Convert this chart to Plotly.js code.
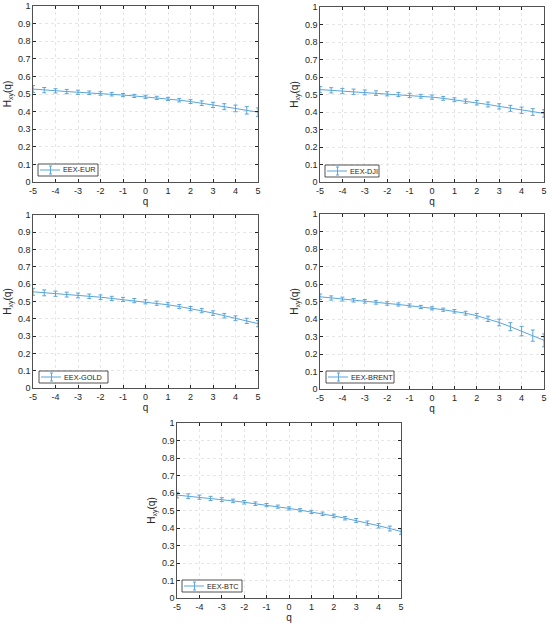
<!DOCTYPE html>
<html><head><meta charset="utf-8">
<script src="https://cdn.plot.ly/plotly-3.0.1.min.js"></script>
<style>html,body{margin:0;padding:0;background:#fff}#chart{width:550px;height:627px}</style>
</head><body><div id="chart"></div>
<script>
const q = [-5,-4.5,-4,-3.5,-3,-2.5,-2,-1.5,-1,-0.5,0,0.5,1,1.5,2,2.5,3,3.5,4,4.5,5];
const names = ["EEX-EUR","EEX-DJI","EEX-GOLD","EEX-BRENT","EEX-BTC"];
const eur    = [0.528,0.522,0.518,0.514,0.510,0.507,0.503,0.499,0.494,0.489,0.484,0.478,0.472,0.465,0.457,0.448,0.438,0.428,0.418,0.407,0.397];
const eurErr = [0.020,0.015,0.012,0.012,0.012,0.010,0.010,0.010,0.009,0.009,0.009,0.009,0.009,0.010,0.011,0.013,0.015,0.017,0.019,0.021,0.024];
const dji    = [0.528,0.524,0.520,0.516,0.512,0.508,0.504,0.500,0.495,0.490,0.485,0.478,0.470,0.462,0.453,0.443,0.432,0.421,0.410,0.400,0.392];
const djiErr = [0.018,0.015,0.015,0.015,0.014,0.013,0.012,0.012,0.012,0.011,0.012,0.011,0.011,0.012,0.013,0.014,0.015,0.017,0.018,0.019,0.021];
const gold    = [0.556,0.550,0.545,0.540,0.535,0.530,0.525,0.518,0.512,0.505,0.498,0.490,0.481,0.471,0.459,0.447,0.433,0.418,0.403,0.388,0.372];
const goldErr = [0.020,0.017,0.015,0.014,0.014,0.013,0.013,0.012,0.012,0.012,0.012,0.012,0.012,0.012,0.012,0.012,0.013,0.013,0.014,0.015,0.018];
const brent    = [0.527,0.520,0.514,0.507,0.501,0.495,0.489,0.483,0.477,0.469,0.461,0.453,0.444,0.433,0.419,0.401,0.380,0.356,0.331,0.305,0.278];
const brentErr = [0.016,0.012,0.011,0.010,0.010,0.010,0.010,0.009,0.009,0.009,0.009,0.009,0.010,0.011,0.013,0.015,0.019,0.023,0.027,0.032,0.037];
const btc    = [0.588,0.582,0.576,0.569,0.562,0.555,0.547,0.539,0.531,0.522,0.512,0.502,0.492,0.481,0.469,0.456,0.443,0.428,0.413,0.397,0.380];
const btcErr = [0.016,0.013,0.012,0.012,0.011,0.010,0.010,0.010,0.009,0.009,0.009,0.009,0.009,0.010,0.010,0.010,0.011,0.012,0.013,0.014,0.016];
const xTicks = [-5,-4,-3,-2,-1,0,1,2,3,4,5];
const yTicks = [0,0.1,0.2,0.3,0.4,0.5,0.6,0.7,0.8,0.9,1];

const W = 550, H = 627;
// pixel boxes [left,right,top,bottom]
const boxes = [[33,258,6,182],[320,544,7,182],[33,258,215,388],[320,544,214,389],[177,401,423,598]];
// legend box [left, top, width]
const legPos = [[38,164,60],[325,165,54],[39,371,69],[326,371,68],[182,580,60]];
const series = [[eur,eurErr],[dji,djiErr],[gold,goldErr],[brent,brentErr],[btc,btcErr]];
const col = '#5aa5da';
const font = {family:'Liberation Sans, Arial, sans-serif', color:'#262626'};
const data = [];
const shapes = [];
const annotations = [];
const px = v => v/W, py = v => 1 - v/H;
const layout = {width:W,height:H,margin:{l:0,r:0,t:0,b:0},paper_bgcolor:'#fff',plot_bgcolor:'#fff',
  font:Object.assign({size:9},font), showlegend:false, shapes:shapes, annotations:annotations};
series.forEach((s,i)=>{
  const k = i===0?'':String(i+1);
  const b = boxes[i];
  data.push({x:q,y:s[0],type:'scatter',mode:'lines',name:names[i],
    line:{color:col,width:1},
    error_y:{type:'data',array:s[1],visible:true,color:col,thickness:1,width:2},
    xaxis:'x'+k,yaxis:'y'+k});
  const ax = {showline:true,linecolor:'#262626',linewidth:0.8,mirror:'ticks',ticks:'inside',ticklen:3,
    tickcolor:'#262626',showgrid:true,gridcolor:'#e0e0e0',griddash:'dot',gridwidth:0.8,zeroline:false,
    tickfont:Object.assign({size:9},font)};
  layout['xaxis'+k] = Object.assign({},ax,{domain:[b[0]/W,b[1]/W],range:[-5,5],tickvals:xTicks,
    ticktext:xTicks.map(String),anchor:'y'+k,title:{text:'q',font:Object.assign({size:10},font),standoff:2}});
  layout['yaxis'+k] = Object.assign({},ax,{domain:[1-b[3]/H,1-b[2]/H],range:[0,1],tickvals:yTicks,
    ticktext:yTicks.map(String),anchor:'x'+k,title:{text:'H<sub>xy</sub>(q)',font:Object.assign({size:10},font),standoff:4}});
  // legend box drawn with shapes + annotation text
  const [lx, ty, lw] = legPos[i];
  const cy = ty + 6;
  shapes.push({type:'rect',xref:'paper',yref:'paper',x0:px(lx),x1:px(lx+lw),y0:py(ty+12),y1:py(ty),
    fillcolor:'#fff',line:{color:'#262626',width:0.8},layer:'above'});
  shapes.push({type:'line',xref:'paper',yref:'paper',x0:px(lx+2),x1:px(lx+22),y0:py(cy),y1:py(cy),
    line:{color:col,width:1},layer:'above'});
  shapes.push({type:'line',xref:'paper',yref:'paper',x0:px(lx+12.5),x1:px(lx+12.5),y0:py(cy-4),y1:py(cy+4),
    line:{color:col,width:1},layer:'above'});
  shapes.push({type:'line',xref:'paper',yref:'paper',x0:px(lx+11),x1:px(lx+14),y0:py(cy-4),y1:py(cy-4),
    line:{color:col,width:1},layer:'above'});
  shapes.push({type:'line',xref:'paper',yref:'paper',x0:px(lx+11),x1:px(lx+14),y0:py(cy+4),y1:py(cy+4),
    line:{color:col,width:1},layer:'above'});
  annotations.push({text:names[i],xref:'paper',yref:'paper',x:px(lx+24),y:py(cy),xanchor:'left',yanchor:'middle',
    showarrow:false,borderpad:0,font:Object.assign({size:7.3},font)});
});
Plotly.newPlot('chart',data,layout,{staticPlot:true,displayModeBar:false});
</script></body></html>
